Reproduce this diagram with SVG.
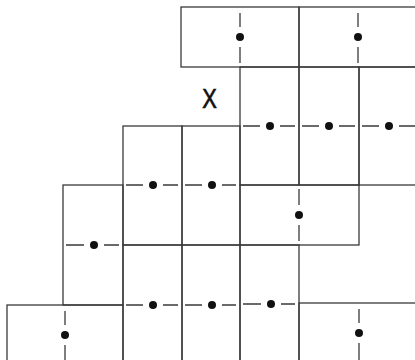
<svg xmlns="http://www.w3.org/2000/svg" width="415" height="360" viewBox="0 0 415 360">
<style>
.edge{fill:none;stroke:#3a3a3a;stroke-width:1.3}
.div{fill:none;stroke:#3a3a3a;stroke-width:1.3}
.dot{fill:#111}
.lbl{font-family:"Liberation Sans",Arial,sans-serif;font-size:28px;fill:#111;stroke:#111;stroke-width:0.7;text-anchor:middle}
</style>
<rect width="415" height="360" fill="#fff"/>
<g id="dominoes">
<g id="A"><rect class="edge" x="181" y="7" width="118" height="60"/><path class="div" d="M240 13V27M240 47V63"/><circle class="dot" cx="240" cy="37" r="4"/></g>
<g id="B"><rect class="edge" x="299" y="7" width="120" height="60"/><path class="div" d="M358 13V27M358 47V63"/><circle class="dot" cx="358" cy="37" r="4"/></g>
<g id="C"><rect class="edge" x="240" y="67" width="59" height="118"/><path class="div" d="M243 126H260M280 126H295"/><circle class="dot" cx="270" cy="126" r="4"/></g>
<g id="D"><rect class="edge" x="299" y="67" width="60" height="118"/><path class="div" d="M302 126H319M339 126H355"/><circle class="dot" cx="329" cy="126" r="4"/></g>
<g id="E"><rect class="edge" x="359" y="67" width="60" height="118"/><path class="div" d="M362 126H379M399 126H415"/><circle class="dot" cx="389" cy="126" r="4"/></g>
<g id="F"><rect class="edge" x="123" y="126" width="59" height="119"/><path class="div" d="M126 185H143M163 185H178"/><circle class="dot" cx="153" cy="185" r="4"/></g>
<g id="G"><rect class="edge" x="182" y="126" width="58" height="119"/><path class="div" d="M185 185H202M222 185H236"/><circle class="dot" cx="212" cy="185" r="4"/></g>
<g id="H"><rect class="edge" x="63" y="185" width="60" height="120"/><path class="div" d="M66 245H84M104 245H119"/><circle class="dot" cx="94" cy="245" r="4"/></g>
<g id="I"><rect class="edge" x="240" y="185" width="119" height="60"/><path class="div" d="M299 189V205M299 225V241"/><circle class="dot" cx="299" cy="215" r="4"/></g>
<g id="J"><rect class="edge" x="123" y="245" width="59" height="120"/><path class="div" d="M126 305H143M163 305H178"/><circle class="dot" cx="153" cy="305" r="4"/></g>
<g id="K"><rect class="edge" x="182" y="245" width="58" height="120"/><path class="div" d="M185 305H202M222 305H236"/><circle class="dot" cx="212" cy="305" r="4"/></g>
<g id="L"><rect class="edge" x="240" y="245" width="59" height="120"/><path class="div" d="M243 304H261M281 304H295"/><circle class="dot" cx="271" cy="304" r="4"/></g>
<g id="M"><rect class="edge" x="7" y="305" width="116" height="60"/><path class="div" d="M65 311V325M65 345V360"/><circle class="dot" cx="65" cy="335" r="4"/></g>
<g id="N"><rect class="edge" x="299" y="303" width="120" height="62"/><path class="div" d="M359 309V323M359 343V360"/><circle class="dot" cx="359" cy="333" r="4"/></g>
</g>
<g id="label-X"><text class="lbl" transform="translate(209.5,108) scale(0.78,1)">X</text></g>
</svg>
